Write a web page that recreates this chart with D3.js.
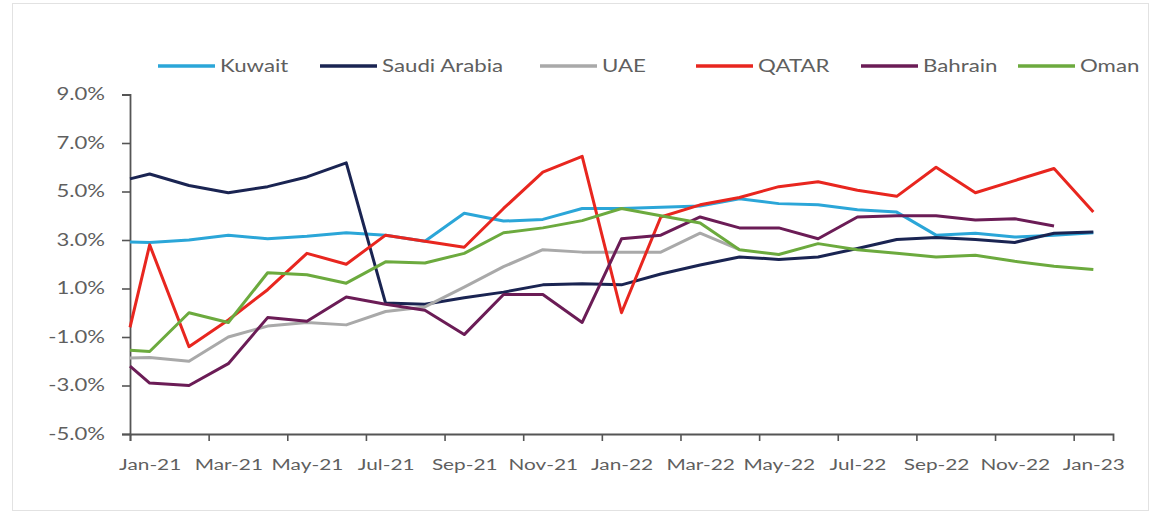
<!DOCTYPE html>
<html>
<head>
<meta charset="utf-8">
<script src="https://cdn.jsdelivr.net/npm/d3@7"></script>
<style>
  body { margin: 0; background: #fff; }
  svg { display: block; font-family: Lato, "Open Sans", sans-serif; }
</style>
</head>
<body>
<svg></svg>
<script>
const width = 1162;
const height = 515;

/* -------------------------
   DATA
--------------------------*/
const tickLabels = ["Jan-21", "Mar-21", "May-21", "Jul-21", "Sep-21", "Nov-21", "Jan-22",
  "Mar-22", "May-22", "Jul-22", "Sep-22", "Nov-22", "Jan-23"];

// sample positions in months from the left edge of the axis
const pointMonths = [0].concat(d3.range(0.5, 25, 1));

const kuwait = [2.92, 2.9, 3.0, 3.2, 3.05, 3.15, 3.3, 3.2, 2.95, 4.1, 3.78, 3.85, 4.3,
  4.3, 4.35, 4.4, 4.7, 4.5, 4.45, 4.25, 4.15, 3.2, 3.28, 3.12, 3.2, 3.3];
const saudi = [5.52, 5.72, 5.25, 4.95, 5.2, 5.6, 6.18, 0.4, 0.35, 0.62, 0.85, 1.15, 1.2,
  1.15, 1.6, 1.97, 2.3, 2.2, 2.3, 2.65, 3.02, 3.1, 3.02, 2.9, 3.28, 3.33];
const uae = [-1.87, -1.85, -2.0, -1.0, -0.55, -0.4, -0.5, 0.05, 0.24, 1.06, 1.9, 2.6, 2.5,
  2.5, 2.5, 3.28, 2.6];
const qatar = [-0.6, 2.8, -1.4, -0.3, 0.95, 2.45, 2.0, 3.2, 2.95, 2.7, 4.3, 5.8, 6.45,
  0.0, 3.95, 4.45, 4.75, 5.2, 5.4, 5.05, 4.8, 6.0, 4.95, 5.45, 5.95, 4.15];
const bahrain = [-2.2, -2.9, -3.0, -2.1, -0.2, -0.35, 0.65, 0.35, 0.1, -0.9, 0.75, 0.75, -0.4,
  3.05, 3.2, 3.95, 3.5, 3.5, 3.05, 3.95, 4.0, 4.0, 3.82, 3.88, 3.58];
const oman = [-1.55, -1.6, 0.0, -0.4, 1.65, 1.57, 1.22, 2.1, 2.05, 2.45, 3.3, 3.5, 3.8,
  4.3, 4.0, 3.7, 2.6, 2.4, 2.85, 2.6, 2.45, 2.3, 2.37, 2.12, 1.92, 1.78];

const yTicks = [-5, -3, -1, 1, 3, 5, 7, 9];

const series = [
  { name: "Kuwait", values: kuwait, color: "#2ba6d8" },
  { name: "Saudi Arabia", values: saudi, color: "#1a2452" },
  { name: "UAE", values: uae, color: "#a9a9a9" },
  { name: "QATAR", values: qatar, color: "#e8261f" },
  { name: "Bahrain", values: bahrain, color: "#6b1c56" },
  { name: "Oman", values: oman, color: "#6caa3e" }
];

/* -------------------------
   SVG + FRAME
--------------------------*/
const svg = d3.select("svg")
  .attr("width", width)
  .attr("height", height);

svg.append("rect")
  .attr("x", 12.5).attr("y", 3.5)
  .attr("width", 1136).attr("height", 507)
  .attr("fill", "#fff")
  .attr("stroke", "#e2e2e2");

/* -------------------------
   SCALES
--------------------------*/
const x = d3.scaleLinear().domain([0, 25]).range([130, 1113]);
const y = d3.scaleLinear().domain([-5, 9]).range([434, 94.5]);

const textColor = "#5f5f5f";
const axisColor = "#555";

// move x/y of a text into a transform so it can be stretched around its anchor
function stretch(sel, sx) {
  sel.each(function () {
    const t = d3.select(this);
    const tx = +t.attr("x") || 0;
    const ty = +t.attr("y") || 0;
    t.attr("x", 0).attr("y", 0)
      .attr("transform", `translate(${tx},${ty}) scale(${sx},1)`);
  });
}

/* -------------------------
   AXES
--------------------------*/
const yAxis = svg.append("g")
  .attr("transform", `translate(${x(0)},0)`)
  .call(d3.axisLeft(y).tickValues(yTicks).tickSize(8).tickPadding(17)
    .tickFormat(d => (d3.format(".1f")(d) + "%").replace("\u2212", "-")));

// ticks sit on category edges, labels in the middle of a category
const xAxis = svg.append("g")
  .attr("transform", `translate(0,${y(-5)})`)
  .call(d3.axisBottom(x).tickValues(d3.range(0, 25, 2)).tickSize(7).tickFormat(""));

const xLabels = svg.append("g")
  .attr("transform", `translate(0,${y(-5)})`)
  .call(d3.axisBottom(x).tickValues(d3.range(0.5, 25, 2)).tickSize(0).tickPadding(25)
    .tickFormat((d, i) => tickLabels[i]));
xLabels.select(".domain").remove();

[yAxis, xAxis].forEach(g => {
  g.select(".domain").attr("stroke", axisColor).attr("stroke-width", 1.8);
  g.selectAll(".tick line").attr("stroke", axisColor).attr("stroke-width", 1.6);
});

yAxis.selectAll(".tick text")
  .attr("fill", textColor)
  .style("font-size", "17px")
  .style("font-family", "Lato, 'Open Sans', sans-serif")
  .call(stretch, 1.3);

xLabels.selectAll(".tick text")
  .attr("fill", textColor)
  .style("font-size", "16px")
  .style("font-family", "Lato, 'Open Sans', sans-serif")
  .call(stretch, 1.3);

/* -------------------------
   LINES
--------------------------*/
const line = d3.line()
  .x((d, i) => x(pointMonths[i]))
  .y(d => y(d));

svg.append("g")
  .selectAll("path")
  .data(series)
  .enter()
  .append("path")
  .attr("d", d => line(d.values))
  .attr("fill", "none")
  .attr("stroke", d => d.color)
  .attr("stroke-width", 3)
  .attr("stroke-linejoin", "round");

/* -------------------------
   LEGEND
--------------------------*/
const legendX = [158, 320, 540, 696, 861, 1018];

const legend = svg.append("g")
  .selectAll("g")
  .data(series)
  .enter()
  .append("g")
  .attr("transform", (d, i) => `translate(${legendX[i]},66)`);

legend.append("line")
  .attr("x1", 0).attr("x2", 57)
  .attr("stroke", d => d.color)
  .attr("stroke-width", 3.5);

legend.append("text")
  .attr("x", 62)
  .attr("dy", "0.35em")
  .attr("fill", textColor)
  .style("font-size", "16.5px")
  .text(d => d.name)
  .call(stretch, 1.35);
</script>
</body>
</html>
